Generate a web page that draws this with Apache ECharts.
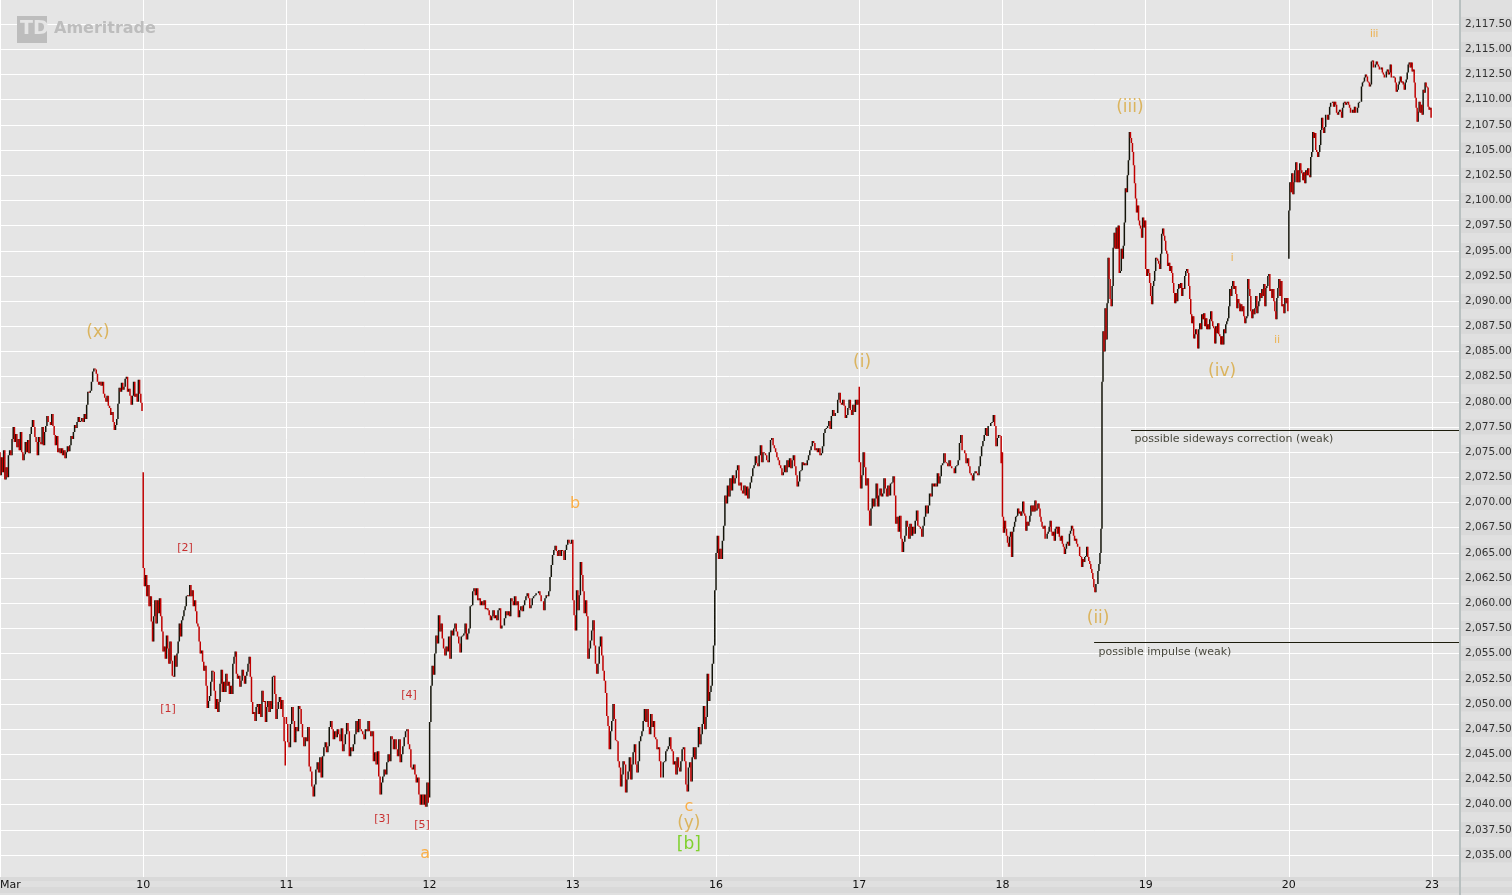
<!DOCTYPE html>
<html>
<head>
<meta charset="utf-8">
<title>Chart</title>
<script src="https://cdn.jsdelivr.net/npm/echarts@6/dist/echarts.min.js"></script>
<style>
html, body { margin: 0; padding: 0; background: #e0e0e0; }
#chart { width: 1512px; height: 895px; }
</style>
</head>
<body>
<div id="chart"></div>
<script>
var dayLabels = ['Mar', '10', '11', '12', '13', '16', '17', '18', '19', '20', '23'];

// one array per session: first value is the open of the first bar, then one close per bar
var mar09 = [2075, 2072.7, 2074.5, 2073, 2075.2, 2072.3, 2073.5, 2072.5, 2074.7, 2075.2, 2074.7, 2076.3, 2077.5, 2076, 2076.8, 2075.5, 2076.3, 2075.2, 2077, 2075, 2074.2, 2074.8, 2076, 2075, 2076.2, 2074.9, 2076.8, 2077.5, 2078.2, 2077.5, 2076.5, 2076, 2074.7, 2076.5, 2076, 2075.8, 2077.5, 2075.7, 2077, 2077.6, 2078.6, 2078, 2078, 2077.7, 2078.8, 2077.6, 2076.7, 2075.7, 2076.6, 2075, 2075.4, 2074.9, 2075.4, 2074.7, 2075.2, 2074.4, 2075, 2075.6, 2075.1, 2075.7, 2076.6, 2076.3, 2077, 2077.7, 2077.4, 2078, 2078.5, 2078, 2078.1, 2078.4, 2078, 2078.8, 2078.3, 2079.7, 2081, 2080.9, 2081.1, 2082, 2083, 2083.3, 2083.2, 2082.8, 2082, 2081.7, 2082, 2081.6, 2082, 2080.8, 2080.4, 2080, 2080.6, 2079.6, 2079.4, 2078.7, 2079, 2078, 2077.2, 2077.7, 2078.3, 2079.8, 2081.4, 2081, 2081.9, 2081.2, 2081.5, 2082.3, 2082.5, 2081, 2081.3, 2080.6, 2079.7, 2080.6, 2082, 2080.5, 2080.8, 2080, 2082.2, 2080.8, 2079.9, 2079.1];
var mar10 = [2073, 2063.5, 2061.7, 2062.8, 2060.7, 2061.8, 2059.7, 2060.7, 2058.2, 2056.2, 2058.7, 2060.3, 2058, 2060.3, 2059, 2060.5, 2058.7, 2057.2, 2055.2, 2055.7, 2054.5, 2056.8, 2055.5, 2054, 2056.2, 2054.3, 2052.8, 2052.7, 2054.8, 2053.7, 2055, 2056.2, 2058, 2056.7, 2058.3, 2058.7, 2059.3, 2059.7, 2060.7, 2060.8, 2060.7, 2061.8, 2060.7, 2061.3, 2059.7, 2060.3, 2059.2, 2058, 2057.7, 2056.2, 2055, 2055.3, 2054.2, 2053.3, 2053.8, 2051.8, 2049.6, 2050.3, 2050.8, 2052.2, 2053.3, 2053.2, 2051.3, 2049.5, 2050.5, 2049.2, 2050.2, 2052, 2053.4, 2051.2, 2052.2, 2051.2, 2053, 2051.8, 2052.2, 2051, 2051.8, 2051, 2054, 2054.7, 2055.2, 2053, 2052.5, 2052.8, 2051.7, 2052.3, 2053.4, 2052.8, 2052, 2052.8, 2053.2, 2054, 2054.7, 2052.7, 2050.2, 2049, 2049.2, 2048.3, 2049.7, 2050, 2049, 2050, 2048.7, 2051.3, 2050.2, 2050.3, 2048.2, 2049.7, 2050.3, 2049.2, 2050.3, 2049.5, 2052.7, 2052.8, 2051, 2048.5, 2049.5, 2050.2, 2050.7, 2049.5, 2050.4, 2048.7, 2046.3, 2043.9];
var mar11 = [2048.7, 2048, 2046.2, 2045.7, 2048, 2049.7, 2048.3, 2046.2, 2047.7, 2047.3, 2049.8, 2049.5, 2048, 2046.7, 2045.8, 2046.7, 2046.3, 2047.7, 2043.8, 2043.3, 2041.8, 2040.8, 2042, 2043.5, 2044.2, 2043.2, 2044.7, 2042.7, 2044.8, 2045.7, 2046.2, 2045.2, 2045.8, 2047.7, 2048.3, 2047.5, 2046.5, 2047.3, 2046.7, 2047.5, 2047, 2046.3, 2047.6, 2045.3, 2046, 2047, 2048.1, 2047.3, 2044.8, 2045.7, 2045.3, 2046, 2047, 2048.3, 2047.2, 2048.5, 2047.5, 2047.3, 2047, 2046.5, 2047.5, 2047.3, 2048.3, 2047.3, 2046.8, 2047.3, 2044.3, 2045.2, 2044, 2045.3, 2042.8, 2041, 2042.2, 2042.8, 2043.5, 2043, 2044.2, 2045, 2044.3, 2046.8, 2046.5, 2045.5, 2046.5, 2045.5, 2044.8, 2046.5, 2044.2, 2045, 2045.8, 2046.7, 2047.3, 2047.5, 2046, 2045.5, 2043.7, 2043.5, 2044, 2043, 2042.2, 2042.7, 2041, 2040, 2041, 2040, 2041, 2039.8, 2042.2, 2040.2];
var mar12 = [2040.7, 2048.2, 2051.8, 2053.8, 2052.9, 2055, 2056.8, 2056, 2058.8, 2057.2, 2058, 2056.5, 2055.5, 2054.8, 2055.7, 2055.2, 2056.7, 2054.5, 2057.3, 2056.8, 2057.5, 2058, 2057.2, 2056.7, 2056, 2055.1, 2056.7, 2056.8, 2057, 2058, 2056.4, 2057, 2057.5, 2059.7, 2059.8, 2061.2, 2061.5, 2060.8, 2061.5, 2060.3, 2060.5, 2059.8, 2060.2, 2059.8, 2060.3, 2059.4, 2059.5, 2059.3, 2058.8, 2058.3, 2058.7, 2059.3, 2058.5, 2058.8, 2058.3, 2059.3, 2059.5, 2057.5, 2057.8, 2057.8, 2058.5, 2059.2, 2058.8, 2059.2, 2058.7, 2060.5, 2060.2, 2059.8, 2060.7, 2059.8, 2060.2, 2058.6, 2059.3, 2059.7, 2059.2, 2059.8, 2060.3, 2060.7, 2061, 2060.5, 2059.5, 2059.8, 2060.5, 2060.7, 2060.8, 2061, 2061, 2061.2, 2060.8, 2060.2, 2060.2, 2059.3, 2060.5, 2060.8, 2060.7, 2061.2, 2062.6, 2063.8, 2064.8, 2065.3, 2065.7, 2065.2, 2064.7, 2065.3, 2064.7, 2065.3, 2065.2, 2064.3, 2065.3, 2065.8, 2066.3, 2066, 2065.9, 2066.3];
var mar13 = [2066.3, 2060.3, 2058.8, 2057.3, 2061.3, 2059.3, 2060.8, 2064.1, 2062.8, 2061.2, 2059, 2060.3, 2058.7, 2054.5, 2055.5, 2056.3, 2057.3, 2058.3, 2055.8, 2054, 2053, 2054, 2055.7, 2056.7, 2054.8, 2053.3, 2052.3, 2051.1, 2048.8, 2047.8, 2045.5, 2047.3, 2048.3, 2050, 2048.5, 2046.4, 2046.3, 2044.3, 2043.7, 2041.8, 2043, 2044.3, 2044, 2041.2, 2042.5, 2043.3, 2044.7, 2042.5, 2044, 2045.2, 2046, 2044, 2043.2, 2044.3, 2046.3, 2046.8, 2047.3, 2048.3, 2049.5, 2048.2, 2049.5, 2047.7, 2047, 2049, 2047.7, 2048.3, 2046.7, 2046.5, 2045.5, 2045.7, 2044.3, 2042.7, 2042.7, 2044.2, 2044.3, 2045.3, 2045.5, 2045.8, 2046.7, 2045.5, 2045.3, 2044, 2044.3, 2043, 2044.7, 2043.7, 2043.3, 2044.3, 2045.5, 2045.7, 2044.3, 2042, 2041.3, 2043.7, 2044.2, 2042.3, 2044.7, 2045.7, 2044.5, 2045.7, 2045.7, 2047.7, 2046, 2047, 2048, 2049.8, 2047.5, 2048.7, 2053, 2050.3, 2051.2, 2051.8, 2054, 2055.8, 2061.3];
var mar16 = [2061.3, 2065, 2066.7, 2064.4, 2065.4, 2064.4, 2066.2, 2067.7, 2070.7, 2069.9, 2071.7, 2070.6, 2072.4, 2071.2, 2072.7, 2071.9, 2072.4, 2073.2, 2073.7, 2071.7, 2072, 2071.2, 2070.9, 2071.7, 2070.7, 2071.6, 2070.4, 2071.4, 2072, 2072.6, 2073.4, 2073.7, 2074.6, 2073.9, 2073.6, 2074.7, 2075.7, 2074, 2075, 2074.9, 2074.7, 2074.2, 2074, 2075, 2076.2, 2076.4, 2075.7, 2075.4, 2075, 2074.5, 2074.2, 2073.7, 2073.4, 2072.7, 2073, 2073.7, 2073, 2074.2, 2073.5, 2074.4, 2073.4, 2074.2, 2074.7, 2073.6, 2072.7, 2071.6, 2072.1, 2073.1, 2073.2, 2074, 2073.7, 2073.9, 2073.7, 2074.2, 2074.7, 2075.2, 2075.6, 2076.1, 2075.9, 2075.2, 2075.4, 2075, 2075.4, 2074.7, 2074.9, 2075.6, 2076.9, 2077.3, 2077.4, 2077.6, 2078.1, 2077.3, 2078.6, 2079.2, 2078.6, 2078.9, 2078.9, 2080.2, 2080.9, 2079.9, 2079.7, 2080.2, 2079.6, 2078.4, 2078.7, 2079.4, 2080.2, 2079.2, 2078.7, 2079.7, 2079, 2080.2, 2079.7, 2080.2];
var mar17 = [2081.5, 2074, 2071.4, 2072.7, 2075, 2073.5, 2071.7, 2072.4, 2069.2, 2067.7, 2069.4, 2070.4, 2069.6, 2070.4, 2071.9, 2069.6, 2070.7, 2071.4, 2070.6, 2070.9, 2072.4, 2071.4, 2070.6, 2071.7, 2070.7, 2071.9, 2072, 2072.6, 2070.7, 2067.9, 2068.6, 2067.1, 2068.7, 2066.4, 2065.1, 2066.1, 2066.7, 2068.2, 2067.6, 2066.4, 2067.9, 2066.7, 2067.6, 2066.9, 2068.2, 2069.2, 2067.7, 2067.6, 2067.4, 2066.6, 2067.7, 2068.6, 2069.7, 2068.9, 2069.7, 2070.9, 2070.6, 2071.9, 2071.6, 2071.9, 2071.6, 2072.9, 2071.9, 2072.6, 2073.7, 2073.9, 2074.9, 2074, 2073.9, 2073.6, 2074.2, 2073.6, 2073.4, 2073.4, 2072.9, 2073.6, 2073.7, 2074.2, 2075.9, 2076.7, 2075.2, 2075.2, 2074.9, 2073.9, 2074.4, 2073.6, 2072.9, 2072.7, 2072.2, 2072.9, 2073.1, 2072.9, 2072.7, 2073.6, 2074.6, 2075.6, 2076.1, 2076.7, 2077.4, 2076.6, 2077.6, 2077.6, 2077.9, 2078, 2078.7, 2077.6, 2075.6, 2076.4, 2076.7, 2076.6, 2073.9];
var mar18 = [2075, 2068.6, 2067, 2068.2, 2067.4, 2066.7, 2066, 2065.6, 2066.6, 2067.1, 2064.6, 2067.1, 2067.6, 2068.1, 2068.6, 2068.7, 2069.4, 2068.9, 2069.1, 2068.7, 2069.1, 2070.1, 2068.9, 2068.7, 2067.2, 2068.1, 2067.7, 2068.1, 2068.7, 2069.7, 2069.1, 2069.7, 2069.1, 2070.2, 2069.2, 2069.4, 2069.9, 2069.4, 2068.6, 2068.1, 2067.6, 2067.4, 2067.7, 2066.4, 2066.4, 2066.9, 2067.1, 2067.6, 2068.2, 2067.1, 2066.7, 2067.1, 2066.2, 2067.4, 2067.6, 2066.9, 2067.6, 2066.6, 2066.2, 2066.7, 2065.9, 2065.6, 2064.9, 2065.4, 2065.9, 2066.1, 2065.7, 2066.9, 2067.2, 2067.7, 2067.4, 2066.7, 2066.2, 2066.4, 2065.9, 2065.6, 2065.6, 2064.7, 2064.6, 2063.6, 2064.4, 2064.1, 2064.6, 2064.7, 2065.6, 2064.6, 2064.2, 2063.9, 2063.4, 2063, 2062.4, 2061.6, 2061.1, 2061.9, 2061.9, 2063.2, 2063.9, 2065, 2067.4, 2082, 2087, 2085, 2089.3, 2086.2, 2089.8, 2094.3, 2092.2, 2090.2, 2089.5, 2091.5, 2095.3, 2096.8, 2095.2, 2097.3, 2095.2, 2097.5, 2092.8, 2093, 2095.2, 2094.2, 2095.5, 2097.8, 2101.2, 2100.8, 2102.5, 2104, 2106.8, 2106.2, 2105.7, 2104.8, 2103.5, 2101.7, 2100.2, 2098.8, 2099.5, 2098, 2097.5, 2097.2, 2096.3, 2098.3, 2097.3, 2098];
var mar19 = [2098, 2093.2, 2092.5, 2093.2, 2092.8, 2091.8, 2090.5, 2089.7, 2091.5, 2092, 2093, 2094.3, 2094.2, 2094, 2093.7, 2093.2, 2094.7, 2096.7, 2097.2, 2096.5, 2096, 2095, 2094.7, 2093.5, 2093.8, 2093, 2093.5, 2092.8, 2091.8, 2090.8, 2089.8, 2090.8, 2090, 2091.2, 2091.7, 2091.3, 2091.8, 2090.5, 2091.3, 2091.2, 2092.5, 2093, 2093.2, 2092.8, 2091.5, 2090.2, 2088.7, 2087.8, 2088.5, 2086.3, 2086.7, 2087.2, 2086.7, 2085.3, 2087.2, 2087.8, 2087.2, 2088.7, 2088.2, 2088.8, 2087.5, 2088.3, 2087.2, 2087.7, 2087.2, 2088.2, 2089, 2088, 2087.5, 2087.3, 2085.8, 2087.5, 2086.8, 2087.8, 2086.7, 2086.5, 2085.7, 2086.5, 2085.7, 2087.2, 2086.8, 2087.7, 2088, 2088.3, 2089.5, 2091.2, 2090.5, 2091.5, 2092, 2091.2, 2091.5, 2090.7, 2089.3, 2090.2, 2089.8, 2089, 2089.7, 2089, 2089.5, 2088.5, 2087.8, 2088.3, 2088.5, 2092.2, 2091.2, 2090.5, 2089, 2088.3, 2089.2, 2088.7, 2089.3, 2090.5, 2088.8, 2089.5, 2090, 2090.8, 2090.3, 2091.2, 2090.5, 2091.7, 2089.5, 2091.3, 2091.5, 2092.5, 2092.7, 2091, 2091.2, 2090.3, 2091.2, 2090, 2089, 2088.2, 2090.3, 2091.3, 2092.2, 2090.5, 2092, 2089.5, 2089.7, 2088.8, 2090.3, 2089.8, 2090.3, 2089];
var mar20 = [2094.2, 2099, 2101.8, 2100.8, 2102.7, 2100.6, 2101.8, 2103, 2103.8, 2101.8, 2103, 2101.8, 2103.7, 2103, 2102.7, 2102, 2102.8, 2101.7, 2103, 2102.5, 2103.2, 2102.5, 2102.3, 2104.3, 2104.8, 2106.8, 2106.2, 2106.7, 2105, 2104.8, 2104.3, 2104.8, 2105.5, 2107, 2108.2, 2107.2, 2106.7, 2107.3, 2108.5, 2108.5, 2108, 2108.5, 2109.3, 2109.7, 2109.7, 2109.8, 2109.3, 2109.8, 2109.5, 2108.7, 2108.5, 2108.8, 2109, 2108.8, 2108.2, 2109.2, 2109.7, 2109.8, 2109.5, 2109.7, 2109.8, 2109.5, 2109.2, 2108.7, 2108.7, 2109, 2108.7, 2109.3, 2108.7, 2108.7, 2109.2, 2109.7, 2109.8, 2109.8, 2111.3, 2111.7, 2111.8, 2112.2, 2112.5, 2112.3, 2111.8, 2111.7, 2111.3, 2111.5, 2113.8, 2113.9, 2113.2, 2113.2, 2113.5, 2113.8, 2113.5, 2113.3, 2113, 2113, 2113.2, 2112.7, 2112.5, 2112.2, 2112.2, 2112.8, 2113, 2112.5, 2112.7, 2113.5, 2112.2, 2112.2, 2112.3, 2112.2, 2111.7, 2110.8, 2111, 2111.5, 2111.8, 2112.3, 2111.7, 2111.8, 2111.5, 2111, 2111.7, 2112, 2112.7, 2113.5, 2113.7, 2113.2, 2113.7, 2112.8, 2113, 2111.7, 2110.2, 2109.2, 2107.8, 2108.8, 2109.8, 2108.7, 2109.5, 2108.5, 2111, 2110.7, 2111.7, 2111.3, 2111.2, 2109.3, 2109, 2109.2, 2108.2];

var sessions = [mar09, mar10, mar11, mar12, mar13, mar16, mar17, mar18, mar19, mar20];

// price annotations: [session position, price, text]
var waveLabels = [[0.684, 2087, '(x)'], [6.02, 2084.05, '(i)'], [7.668, 2058.6, '(ii)'], [7.89, 2109.4, '(iii)'], [8.534, 2083.2, '(iv)'], [4.81, 2038.3, '(y)']];
var letterLabels = [[2.968, 2035.3, 'a'], [4.015, 2070, 'b'], [4.81, 2039.9, 'c']];
var minorLabels = [[8.603, 2094.4, 'i'], [8.918, 2086.2, 'ii'], [9.595, 2116.6, 'iii']];
var subLabels = [[1.173, 2049.6, '[1]'], [1.292, 2065.6, '[2]'], [2.668, 2038.7, '[3]'], [2.856, 2051, '[4]'], [2.947, 2038.1, '[5]']];
var majorLabels = [[4.81, 2036.2, '[b]']];
var noteLabels = [[7.919, 2076.4, 'possible sideways correction (weak)'], [7.668, 2055.3, 'possible impulse (weak)']];

var xMax = 10.188;

// horizontal levels: [from, price]
var levels = [[7.898, 2077.2], [7.64, 2056.15]];

var bars = [];
sessions.forEach(function (session, k) {
    var n = session.length - 1;
    for (var i = 1; i <= n; i++) {
        var o = session[i - 1], c = session[i];
        bars.push([k + (i - 1) / n, o, c, Math.min(o, c), Math.max(o, c)]);
    }
});

function textSeries(data, size, color, position) {
    return {
        type: 'scatter',
        data: data,
        symbolSize: 1,
        itemStyle: { color: 'transparent' },
        silent: true,
        z: 5,
        label: {
            show: true,
            position: position || 'inside',
            offset: [0, 1.5],
            distance: 0,
            color: color,
            fontFamily: 'DejaVu Sans',
            fontSize: size,
            formatter: function (p) { return p.data[2]; }
        }
    };
}

var chart = echarts.init(document.getElementById('chart'));

chart.setOption({
    animation: false,
    backgroundColor: '#e0e0e0',
    grid: { left: 0, top: -1, right: 53, bottom: 14.8, show: true, backgroundColor: '#e5e5e5', borderWidth: 0, outerBoundsMode: 'none' },
    xAxis: [{
        type: 'value', min: 0, max: xMax, interval: 1,
        axisLine: { show: false }, axisTick: { show: false }, axisLabel: { show: false },
        splitLine: { show: true, showMaxLine: false, lineStyle: { color: '#fff', width: 1 } }
    }, {
        type: 'value', min: 0, max: xMax, interval: 1, position: 'bottom', z: 20,
        axisLine: { show: false }, axisTick: { show: false }, splitLine: { show: false },
        axisLabel: {
            margin: -1, color: '#111', fontFamily: 'DejaVu Sans', fontSize: 11,
            showMaxLabel: false, alignMinLabel: 'left',
            formatter: function (v) { return dayLabels[v] || ''; }
        }
    }],
    yAxis: {
        type: 'value', position: 'right', min: 2032.5, max: 2120, interval: 2.5,
        axisLine: { show: false }, axisTick: { show: false },
        splitLine: { show: true, showMinLine: false, showMaxLine: false, lineStyle: { color: '#fff', width: 1 } },
        axisLabel: {
            margin: 2, color: '#333', fontFamily: 'DejaVu Sans', fontSize: 10.5,
            showMinLabel: false, showMaxLabel: false,
            width: 50, align: 'left', backgroundColor: '#d9d9d9', padding: [3, 0, 1, 4],
            formatter: function (v) {
                return v.toLocaleString('en-US', { minimumFractionDigits: 2, maximumFractionDigits: 2 });
            }
        }
    },
    graphic: [
        { type: 'rect', z: 10, shape: { x: 0, y: 877, width: 1512, height: 18 }, style: { fill: '#e0e0e0' } },
        { type: 'rect', z: 10, shape: { x: 0, y: 877, width: 1512, height: 4 }, style: { fill: '#d9d9d9' } },
        { type: 'rect', z: 10, shape: { x: 0, y: 887, width: 1512, height: 6 }, style: { fill: '#d9d9d9' } },
        { type: 'rect', z: 10, shape: { x: 1459, y: 0, width: 2, height: 895 }, style: { fill: '#b8c0c0' } },
        { type: 'rect', z: 3, shape: { x: 17, y: 16, width: 30, height: 27 }, style: { fill: '#bdbdbd' } },
        { type: 'text', z: 3, x: 20, y: 20, style: { text: 'TD', fill: '#e5e5e5', font: 'bold 19px "DejaVu Sans"' } },
        { type: 'text', z: 3, x: 54, y: 21, style: { text: 'Ameritrade', fill: '#bdbdbd', font: 'bold 16px "DejaVu Sans"' } }
    ],
    series: [{
        type: 'candlestick',
        data: bars,
        encode: { x: 0, y: [1, 2, 3, 4] },
        barWidth: 1,
        z: 4,
        itemStyle: { color: '#14140a', color0: '#c00000', borderColor: '#14140a', borderColor0: '#c00000', borderWidth: 1.5 },
        markLine: {
            silent: true,
            symbol: 'none',
            label: { show: false },
            lineStyle: { color: '#1c1c0c', width: 1, type: 'solid' },
            data: levels.map(function (l) {
                return [{ coord: [l[0], l[1]] }, { coord: [xMax, l[1]] }];
            })
        }
    },
    textSeries(waveLabels, 17, '#d8a83c'),
    textSeries(letterLabels, 16, '#ffa01e'),
    textSeries(minorLabels, 10, '#f0a01e'),
    textSeries(subLabels, 11, '#c00000'),
    textSeries(majorLabels, 17, '#66cc00'),
    textSeries(noteLabels, 11, '#1c1c0c', 'right')
    ]
});

window.addEventListener('resize', function () { chart.resize(); });
</script>
</body>
</html>
